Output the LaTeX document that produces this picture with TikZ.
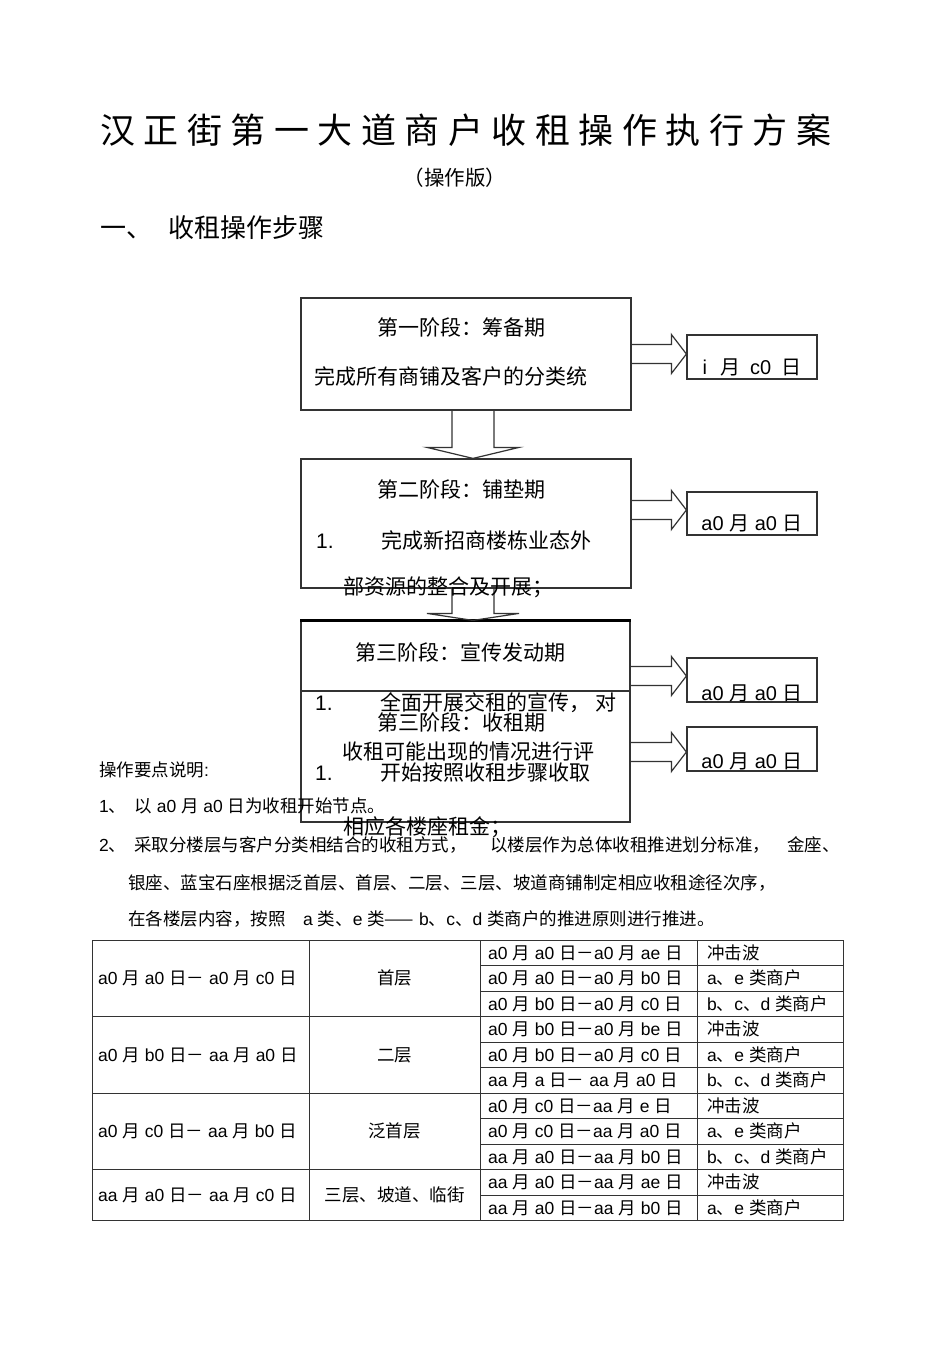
\documentclass[tikz,border=0pt]{standalone}
\usepackage{fontspec}
\setmainfont{Liberation Sans}
\newfontfamily\cjkfont{Noto Sans CJK SC}
\usetikzlibrary{calc}
% automatic switch to the CJK font for CJK characters
\XeTeXinterchartokenstate=1
\chardef\CJKcls=200
\newcount\cjkcnt
\def\setcjkrange#1#2{\cjkcnt=#1\relax\loop\XeTeXcharclass\cjkcnt=\CJKcls\relax\ifnum\cjkcnt<#2\advance\cjkcnt by 1\repeat}
\def\setzerorange#1#2{\cjkcnt=#1\relax\loop\XeTeXcharclass\cjkcnt=0\relax\ifnum\cjkcnt<#2\advance\cjkcnt by 1\repeat}
\setzerorange{"0021}{"007E}
\setcjkrange{"2014}{"2014}
\setcjkrange{"3000}{"303F}
\setcjkrange{"4E00}{"9FFF}
\setcjkrange{"FF00}{"FFEF}
\def\cjkpair#1{\XeTeXinterchartoks #1 \CJKcls = {\begingroup\cjkfont}\XeTeXinterchartoks \CJKcls #1 = {\endgroup}}
\cjkpair{0}\cjkpair{1}\cjkpair{2}\cjkpair{3}\cjkpair{4095}
\XeTeXinterchartoks \CJKcls \CJKcls = {}

\tikzset{
  boxline/.style={draw=black!80, line width=1.2pt},
  mainbox/.style={boxline, inner sep=0pt, minimum width=330pt},
  datebox/.style={boxline, inner sep=0pt, minimum width=130pt, minimum height=44pt},
  blk/.style={draw=black!80, line width=1.2pt, line join=miter},
  ttl/.style={inner sep=0pt, font=\fontsize{35}{40}\selectfont, text height=26.6pt, text depth=1.4pt},
  subt/.style={inner sep=0pt, font=\fontsize{20.5}{24}\selectfont, text height=15.6pt, text depth=0.8pt},
  sect/.style={inner sep=0pt, anchor=west, font=\fontsize{26}{30}\selectfont, text height=19.8pt, text depth=1pt},
  tA/.style={inner sep=0pt, anchor=west, font=\fontsize{21}{25}\selectfont, text height=16pt, text depth=0.8pt},
  rtxt/.style={inner sep=0pt, font=\fontsize{20}{24}\selectfont, text height=15.2pt, text depth=0.8pt},
  note/.style={inner sep=0pt, anchor=west, font=\fontsize{17.5}{21}\selectfont, text height=13.3pt, text depth=0.7pt},
  cell/.style={inner sep=0pt, font=\fontsize{17.5}{21}\selectfont, text height=13.3pt, text depth=0.7pt},
  cellL/.style={cell, anchor=west},
  grid/.style={draw=black!80, line width=0.9pt},
}
\newcommand\rarr[3]{%
  \draw[blk] ($(#1.east|-#2.west)+(0,#3-9.5)$) -- ($(#2.west)+(-15,#3-9.5)$)
    -- ($(#2.west)+(-15,#3-19.5)$) -- ($(#2.west)+(0,#3)$)
    -- ($(#2.west)+(-15,#3+19.5)$) -- ($(#2.west)+(-15,#3+9.5)$)
    -- ($(#1.east|-#2.west)+(0,#3+9.5)$);}
\newcommand\darr[3]{%
  \draw[blk] ($(#1.south)+(-14,0)$) -- ($(#1.south|-#2.north)+(-14,-#3)$)
    -- ($(#1.south|-#2.north)+(-39,-#3)$) -- ($(#1.south|-#2.north)+(7,0)$)
    -- ($(#1.south|-#2.north)+(53,-#3)$) -- ($(#1.south|-#2.north)+(28,-#3)$)
    -- ($(#1.south)+(28,0)$);}

\begin{document}
\begin{tikzpicture}[x=1pt,y=-1pt]
\useasboundingbox[fill=white] (0,0) rectangle (950,1345);

% ---------- title ----------
\foreach \c [count=\i from 0] in {汉,正,街,第,一,大,道,商,户,收,租,操,作,执,行,方,案}
  \node[ttl] (T\i) at (117.5+43.5*\i,131) {\c};
\node[subt] (sub) at (455,178) {（操作版）};
\node[sect] (sec) at (100,228) {一、\hspace{16pt}收租操作步骤};

% ---------- flow boxes ----------
\node[mainbox, minimum height=112pt] (b1) at (466,354) {};
\node[mainbox, minimum height=129pt] (b2) at (466,523.5) {};
\node[mainbox, minimum width=329pt, minimum height=201pt] (b3) at (465.5,721.5) {};
\draw[black, line width=2.2pt] (b3.north west) -- (b3.north east);
\coordinate (d3) at (0,691);
\draw[boxline] (b3.west|-d3) -- (b3.east|-d3);

\node[datebox] (r1) at (752,357) {};
\node[datebox, minimum height=43pt] (r2) at (752,513.5) {};
\node[datebox] (r3) at (752,680) {};
\node[datebox] (r4) at (752,749) {};

\rarr{b1}{r1}{-3}
\rarr{b2}{r2}{-3.5}
\rarr{b3}{r3}{-4}
\rarr{b3}{r4}{3}
\darr{b1}{b2}{11}
\darr{b2}{b3}{7}

% box texts
\node[tA] (t1a) at (377,328) {第一阶段：筹备期};
\node[tA] (t1b) at (314,377) {完成所有商铺及客户的分类统};
\node[tA] (t2a) at (377,490) {第二阶段：铺垫期};
\node[tA] (t2b) at (316,541) {1.};
\node[tA] (t2c) at (381,541) {完成新招商楼栋业态外};
\node[tA] (t2d) at (343,587) {部资源的整合及开展；};
\node[tA] (t3a) at (355,653) {第三阶段：宣传发动期};
\node[tA] (t3b) at (315,703) {1.};
\node[tA] (t3c) at (380,703) {全面开展交租的宣传，};
\node[tA] (t3d) at (595,703) {对};
\node[tA] (t3e) at (377,723) {第三阶段：收租期};
\node[tA] (t3f) at (342,752) {收租可能出现的情况进行评};
\node[tA] (t3g) at (315,773) {1.};
\node[tA] (t3h) at (380,773) {开始按照收租步骤收取};
\node[tA] (t3i) at (343,827) {相应各楼座租金；};

% date texts
\node[rtxt] (d1) at ($(r1.center)+(0,10)$) {i\hspace{13pt}月\hspace{10pt}c0\hspace{10pt}日};
\node[rtxt] (d2) at ($(r2.center)+(0,9.5)$) {a0 月 a0 日};
\node[rtxt] (d3t) at ($(r3.center)+(0,13)$) {a0 月 a0 日};
\node[rtxt] (d4) at ($(r4.center)+(0,12)$) {a0 月 a0 日};

% ---------- notes ----------
\node[note] (n0) at (99,770) {操作要点说明:};
\node[note] (n1) at (99,806) {1、\hspace{8pt}以 a0 月 a0 日为收租开始节点。};
\node[note] (n2a) at (99,845) {2、};
\node[note] (n2b) at (134,845) {采取分楼层与客户分类相结合的收租方式，};
\node[note] (n2c) at (490,845) {以楼层作为总体收租推进划分标准，};
\node[note] (n2d) at (787,845) {金座、};
\node[note] (n3) at (128,883) {银座、蓝宝石座根据泛首层、首层、二层、三层、坡道商铺制定相应收租途径次序，};
\node[note] (n4a) at (128,919) {在各楼层内容，按照};
\node[note] (n4b) at (303,919) {a 类、e 类—— b、c、d 类商户的推进原则进行推进。};

% ---------- table ----------
\draw[grid] (92,940) rectangle (843,1220.5);
\foreach \x in {309,480,697} \draw[grid] (\x,940) -- (\x,1220.5);
\foreach \k in {3,6,9} \draw[grid] (92,940+25.5*\k) -- (843,940+25.5*\k);
\foreach \k in {1,2,4,5,7,8,10} \draw[grid] (480,940+25.5*\k) -- (843,940+25.5*\k);

\node[cellL] (g1a) at (98,978.25) {a0 月 a0 日－ a0 月 c0 日};
\node[cell]  (g1b) at (394.5,978.25) {首层};
\node[cellL] (g2a) at (98,1054.75) {a0 月 b0 日－ aa 月 a0 日};
\node[cell]  (g2b) at (394.5,1054.75) {二层};
\node[cellL] (g3a) at (98,1131.25) {a0 月 c0 日－ aa 月 b0 日};
\node[cell]  (g3b) at (394.5,1131.25) {泛首层};
\node[cellL] (g4a) at (98,1195) {aa 月 a0 日－ aa 月 c0 日};
\node[cell]  (g4b) at (394.5,1195) {三层、坡道、临街};

\foreach \t [count=\k from 0] in {%
  a0 月 a0 日－a0 月 ae 日, a0 月 a0 日－a0 月 b0 日, a0 月 b0 日－a0 月 c0 日,
  a0 月 b0 日－a0 月 be 日, a0 月 b0 日－a0 月 c0 日, aa 月 a 日－ aa 月 a0 日,
  a0 月 c0 日－aa 月 e 日, a0 月 c0 日－aa 月 a0 日, aa 月 a0 日－aa 月 b0 日,
  aa 月 a0 日－aa 月 ae 日, aa 月 a0 日－aa 月 b0 日}
  \node[cellL] (p\k) at (488,952.75+25.5*\k) {\t};
\foreach \t [count=\k from 0] in {%
  冲击波, a、e 类商户, b、c、d 类商户,
  冲击波, a、e 类商户, b、c、d 类商户,
  冲击波, a、e 类商户, b、c、d 类商户,
  冲击波, a、e 类商户}
  \node[cellL] (q\k) at (707,952.75+25.5*\k) {\t};
\end{tikzpicture}
\end{document}
